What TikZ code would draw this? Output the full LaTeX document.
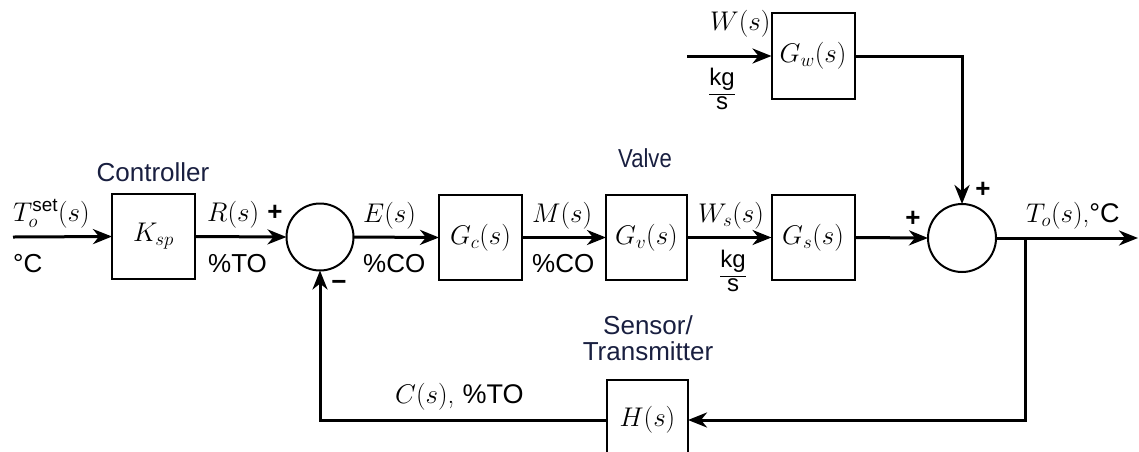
\RequirePackage{fix-cm}
\documentclass[tikz,border=0pt]{standalone}
\usepackage{fontspec}
\setsansfont{Liberation Sans}
\usetikzlibrary{arrows.meta}
\definecolor{lbl}{rgb}{0.1,0.12,0.25}
\begin{document}
\begin{tikzpicture}[x=1pt,y=-1pt,font=\fontsize{27}{32}\selectfont,
  blk/.style={draw,line width=2pt,inner sep=0pt,outer sep=0pt,minimum width=83pt,minimum height=85pt},
  sumc/.style={draw,circle,line width=2pt,inner sep=0pt,outer sep=0pt,minimum size=67pt},
  sig/.style={line width=3pt,-{Stealth[length=19pt,width=15pt,inset=6pt]}},
  txt/.style={inner sep=0pt,anchor=base west},
  unit/.style={inner sep=0pt,anchor=base west,font=\fontsize{26}{31}\selectfont\sffamily},
  frac/.style={inner sep=0pt,font=\fontsize{24}{22}\selectfont\sffamily},
  tag/.style={inner sep=0pt,text=lbl,font=\fontsize{26}{31}\selectfont\sffamily},
  sgn/.style={inner sep=0pt,font=\fontsize{26}{30}\selectfont\sffamily\bfseries}]
\useasboundingbox (0,0) rectangle (1139,451);
\clip (0,0) rectangle (1139,451);
% blocks
\node[blk] (ksp) at (153.5,236.5) {$K_{sp}$};
\node[sumc] (s1) at (320,237) {};
\node[blk] (gc) at (480.5,237.5) {$G_c(s)$};
\node[blk,minimum width=81pt] (gv) at (646.5,237.5) {$G_v(s)$};
\node[blk] (gs) at (813,237.5) {$G_s(s)$};
\node[blk,minimum height=86pt] (gw) at (813,56) {$G_w(s)$};
\node[sumc,minimum size=68pt] (s2) at (962,238) {};
\node[blk,minimum width=81pt,minimum height=80pt] (h) at (647.5,420) {$H(s)$};
\coordinate (tin) at (13,237);
\coordinate (win) at (687,56);
\coordinate (tout) at (1138,238);
\coordinate (br) at (1025,238);
% connectors
\draw[sig] (tin) -- (ksp.west);
\draw[sig] (ksp.east) -- (s1.west);
\draw[sig] (s1.east) -- (gc.west);
\draw[sig] (gc.east) -- (gv.west);
\draw[sig] (gv.east) -- (gs.west);
\draw[sig] (gs.east) -- (s2.west);
\draw[sig] (s2.east) -- (tout);
\draw[sig] (win) -- (gw.west);
\draw[sig] (gw.east) -| (s2.north);
\draw[sig] (br) |- (h.east);
\draw[sig] (h.west) -| (s1.south);
% labels
\node[txt] (lt) at (13,221) {$T_o^{\mathsf{set}}(s)$};
\node[unit] (lc) at (13,272) {°C};
\node[tag] (lcontr) at (153,172) {Controller};
\node[txt] (lr) at (207,221) {$R(s)$};
\node[unit] (lto) at (208,272) {\%TO};
\node[sgn] (p1) at (275,213) {+};
\node[sgn] (m1) at (339,285) {\textminus};
\node[txt] (le) at (363,222) {$E(s)$};
\node[unit] (lco1) at (363,272) {\%CO};
\node[txt] (lm) at (532,222) {$M(s)$};
\node[unit] (lco2) at (532,272) {\%CO};
\node[tag] (lvalve) at (645,158) {\scalebox{0.85}[1]{Valve}};
\node[txt] (lws) at (698,222) {$W_s(s)$};
\node[frac] (lkg1) at (733,274) {\begin{tabular}{@{}c@{}}kg\\[2pt]\hline s\end{tabular}};
\node[txt] (lw) at (710,30) {$W(s)$};
\node[frac] (lkg2) at (722,92) {\begin{tabular}{@{}c@{}}kg\\[2pt]\hline s\end{tabular}};
\node[sgn] (p2) at (913,219) {+};
\node[sgn] (p3) at (983,190) {+};
\node[txt] (lto2) at (1026,222) {$T_o(s)$,\textsf{°C}};
\node[tag] (lsens) at (648,325) {Sensor/};
\node[tag] (ltrans) at (648,351) {Transmitter};
\node[txt] (lcs) at (395,403) {$C(s)$, \textsf{\%TO}};
\end{tikzpicture}
\end{document}
